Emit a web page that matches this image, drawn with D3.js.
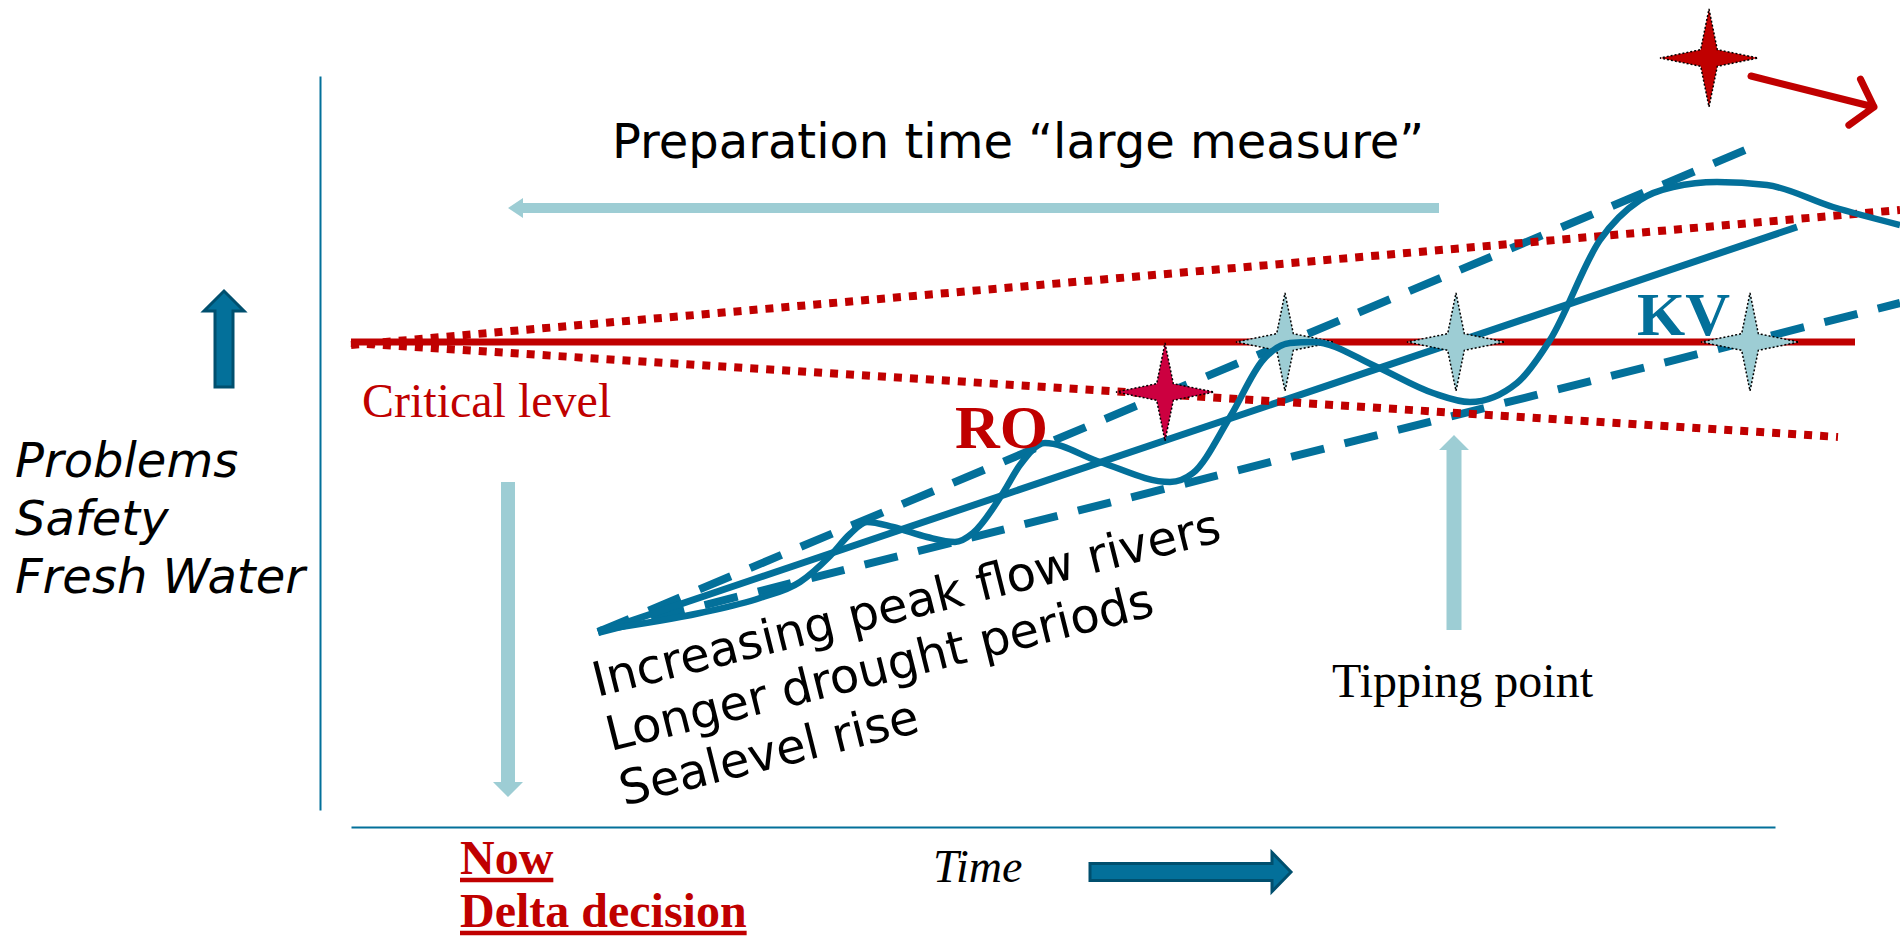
<!DOCTYPE html>
<html>
<head>
<meta charset="utf-8">
<script src="https://cdn.jsdelivr.net/npm/d3@7"></script>
<style>
    html, body { margin: 0; padding: 0; background: #fff; }
    svg { display: block; }
</style>
</head>
<body>
<svg id="chart" width="1900" height="937"></svg>
<script>
// Values are in diagram units: time (x) and problem level (y).
var timeDomain = [0, 158];
var levelDomain = [0, 75.1];

var yAxisSpan = [1.7, 75.1];
var xAxisSpan = [3.1, 145.5];

var criticalLevel = 48.5;
var criticalSpan = [3.1, 153.5];

var boundUpper = [[3.1, 48.2], [158, 61.7]];
var boundLower = [[3.1, 48.4], [151.8, 39.0]];

var trendUpper = [[27.8, 19.5], [144.2, 68.4]];
var trendLower = [[27.8, 19.5], [158, 52.4]];
var trend = [[27.8, 19.5], [147.7, 60.0]];

var wave = [
    [28.0, 19.7], [38.0, 21.4], [44.0, 22.9], [48.0, 24.5], [51.0, 27.1], [53.0, 29.3],
    [54.7, 30.5], [57.3, 30.0], [60.7, 29.0], [63.5, 28.5], [65.3, 29.4], [68.3, 33.4],
    [70.0, 36.2], [72.5, 38.4], [78.0, 36.5], [85.0, 34.5], [87.3, 35.4], [91.0, 41.0],
    [94.3, 46.7], [97.0, 48.4], [99.3, 48.5], [105.7, 46.0], [111.3, 43.4], [115.0, 42.5],
    [119.7, 44.4], [123.0, 48.7], [128.0, 58.7], [132.0, 62.7], [135.3, 64.0], [139.7, 64.5],
    [144.7, 64.2], [151.3, 62.0], [158.0, 60.2]
];

var tippingStars = [[96.5, 48.5], [113.6, 48.5], [143.0, 48.5]];
var roStars = [[84.5, 43.5]];
var futureStars = [[138.9, 76.9]];
var futureArrow = [[143.1, 75.1], [155.4, 72.0]];

var prepArrow = [[111.9, 61.9], [18.8, 61.9]];
var nowArrow = [[18.8, 34.5], [18.8, 3.0]];
var tipArrow = [[113.4, 19.7], [113.4, 39.2]];
var levelArrow = [[-9.6, 44.0], [-9.6, 53.6]];
var timeArrow = [[77.0, -4.5], [97.1, -4.5]];

var problemLabels = ['Problems', 'Safety', 'Fresh Water'];
var driverLabels = ['Increasing peak flow rivers', 'Longer drought periods', 'Sealevel rise'];
var decisionLabels = ['Now', 'Delta decision'];

var blue = '#03709a';
var blueDark = '#004f6e';
var lightBlue = '#9dcdd4';
var red = '#c00000';
var crimson = '#cc0040';
var sans = '"DejaVu Sans", Verdana, sans-serif';
var serif = '"Liberation Serif", "Times New Roman", serif';

var svg = d3.select('svg#chart');

var x = d3.scaleLinear().domain(timeDomain).range([320, 1900]);
var y = d3.scaleLinear().domain(levelDomain).range([827, 76]);

var line = d3.line().x(function(d) { return x(d[0]); }).y(function(d) { return y(d[1]); });

/**
 * Block arrow outline between two pixel points.
 */
function blockArrow(p0, p1, shaft, head, headLen) {
    var dx = p1[0] - p0[0], dy = p1[1] - p0[1];
    var len = Math.sqrt(dx * dx + dy * dy);
    var ux = dx / len, uy = dy / len, nx = -uy, ny = ux;
    var bx = p1[0] - ux * headLen, by = p1[1] - uy * headLen;
    var pts = [
        [p0[0] + nx * shaft / 2, p0[1] + ny * shaft / 2],
        [bx + nx * shaft / 2, by + ny * shaft / 2],
        [bx + nx * head / 2, by + ny * head / 2],
        p1,
        [bx - nx * head / 2, by - ny * head / 2],
        [bx - nx * shaft / 2, by - ny * shaft / 2],
        [p0[0] - nx * shaft / 2, p0[1] - ny * shaft / 2]
    ];
    return 'M' + pts.join('L') + 'Z';
}

/**
 * Four pointed star around a centre.
 */
function starPath(cx, cy, r) {
    var pts = [];
    for (var i = 0; i < 8; i++) {
        var a = i * Math.PI / 4 - Math.PI / 2;
        var rr = i % 2 == 0 ? r : r * 0.24;
        pts.push([cx + rr * Math.cos(a), cy + rr * Math.sin(a)]);
    }
    return 'M' + pts.join('L') + 'Z';
}

function px(p) { return [x(p[0]), y(p[1])]; }

// Axes (no ticks, just the domain line)
var vScale = d3.scaleLinear().domain(yAxisSpan).range(yAxisSpan.map(y));
svg.append('g')
    .attr('transform', 'translate(' + x(0) + ',0)')
    .call(d3.axisLeft(vScale).tickValues([]).tickSizeOuter(0))
    .select('.domain').attr('stroke', blue).attr('stroke-width', 2);

var hScale = d3.scaleLinear().domain(xAxisSpan).range(xAxisSpan.map(x));
svg.append('g')
    .attr('transform', 'translate(0,' + y(0) + ')')
    .call(d3.axisBottom(hScale).tickValues([]).tickSizeOuter(0))
    .select('.domain').attr('stroke', blue).attr('stroke-width', 2);

// Trend lines
[trendUpper, trendLower].forEach(function(d) {
    svg.append('path').attr('d', line(d))
        .attr('fill', 'none').attr('stroke', blue).attr('stroke-width', 8)
        .attr('stroke-dasharray', '34 21');
});
svg.append('path').attr('d', line(trend))
    .attr('fill', 'none').attr('stroke', blue).attr('stroke-width', 7);

// Uncertainty of the critical level
[boundUpper, boundLower].forEach(function(d) {
    svg.append('path').attr('d', line(d))
        .attr('fill', 'none').attr('stroke', red).attr('stroke-width', 8)
        .attr('stroke-dasharray', '8 8');
});

svg.append('line')
    .attr('x1', x(criticalSpan[0])).attr('x2', x(criticalSpan[1]))
    .attr('y1', y(criticalLevel)).attr('y2', y(criticalLevel))
    .attr('stroke', red).attr('stroke-width', 7);

// Stars
function drawStars(data, fill) {
    svg.selectAll(null).data(data).enter().append('path')
        .attr('d', function(d) { return starPath(x(d[0]), y(d[1]), 49); })
        .attr('fill', fill)
        .attr('stroke', '#000').attr('stroke-width', 1.5)
        .attr('stroke-dasharray', '2 2');
}
drawStars(roStars, crimson);
drawStars(tippingStars, lightBlue);
drawStars(futureStars, red);

// Wave of actual problems
svg.append('path').attr('d', line.curve(d3.curveMonotoneX)(wave))
    .attr('fill', 'none').attr('stroke', blue).attr('stroke-width', 6.5);
line.curve(d3.curveLinear);

// Red arrow leaving the picture
var fa0 = px(futureArrow[0]), fa1 = px(futureArrow[1]);
var ang = Math.atan2(fa1[1] - fa0[1], fa1[0] - fa0[0]);
var arm = 31, spread = 50 * Math.PI / 180;
svg.append('path')
    .attr('d', 'M' + fa0 + 'L' + fa1 +
        'M' + [fa1[0] - arm * Math.cos(ang - spread), fa1[1] - arm * Math.sin(ang - spread)] +
        'L' + fa1 +
        'L' + [fa1[0] - arm * Math.cos(ang + spread), fa1[1] - arm * Math.sin(ang + spread)])
    .attr('fill', 'none').attr('stroke', red).attr('stroke-width', 7)
    .attr('stroke-linecap', 'round').attr('stroke-linejoin', 'round');

// Light blue arrows
svg.append('path').attr('d', blockArrow(px(prepArrow[0]), px(prepArrow[1]), 10, 20, 15)).attr('fill', lightBlue);
svg.append('path').attr('d', blockArrow(px(nowArrow[0]), px(nowArrow[1]), 14, 30, 15)).attr('fill', lightBlue);
svg.append('path').attr('d', blockArrow(px(tipArrow[0]), px(tipArrow[1]), 15, 30, 15)).attr('fill', lightBlue);

// Dark axis arrows
svg.append('path').attr('d', blockArrow(px(levelArrow[0]), px(levelArrow[1]), 18, 40, 20))
    .attr('fill', blue).attr('stroke', blueDark).attr('stroke-width', 3);
svg.append('path').attr('d', blockArrow(px(timeArrow[0]), px(timeArrow[1]), 17, 39, 19))
    .attr('fill', blue).attr('stroke', blueDark).attr('stroke-width', 3);

// Texts
svg.append('text')
    .attr('x', x(29.2)).attr('y', y(66.9))
    .style('font-family', sans).style('font-size', '48px').attr('fill', '#000')
    .text('Preparation time \u201clarge measure\u201d');

svg.append('text')
    .attr('x', x(4.2)).attr('y', y(41.0))
    .style('font-family', serif).style('font-size', '48px').attr('fill', red)
    .text('Critical level');

svg.append('text')
    .attr('x', x(63.5)).attr('y', y(37.9))
    .style('font-family', serif).style('font-size', '62px').style('font-weight', 'bold').attr('fill', red)
    .text('RO');

svg.append('text')
    .attr('x', x(131.7)).attr('y', y(49.2))
    .style('font-family', serif).style('font-size', '62px').style('font-weight', 'bold').attr('fill', blue)
    .text('KV');

svg.append('text')
    .attr('x', x(101.2)).attr('y', y(13.0))
    .style('font-family', serif).style('font-size', '48px').attr('fill', '#000')
    .text('Tipping point');

svg.append('text')
    .attr('x', x(61.3)).attr('y', y(-5.5))
    .style('font-family', serif).style('font-size', '46px').style('font-style', 'italic').attr('fill', '#000')
    .text('Time');

svg.selectAll(null).data(problemLabels).enter().append('text')
    .attr('x', x(-30.5)).attr('y', function(d, i) { return y(35.0) + i * 58; })
    .style('font-family', sans).style('font-size', '48px').style('font-style', 'italic').attr('fill', '#000')
    .text(function(d) { return d; });

var drivers = svg.append('g')
    .attr('transform', 'translate(' + x(27.7) + ',' + y(13.0) + ') rotate(-14)');
drivers.selectAll('text').data(driverLabels).enter().append('text')
    .attr('x', 0).attr('y', function(d, i) { return i * 56; })
    .style('font-family', sans).style('font-size', '48px').attr('fill', '#000')
    .text(function(d) { return d; });

svg.selectAll(null).data(decisionLabels).enter().append('text')
    .attr('class', 'decision')
    .attr('x', x(14.0)).attr('y', function(d, i) { return y(-4.7) + i * 53; })
    .style('font-family', serif).style('font-size', '48px').style('font-weight', 'bold').attr('fill', red)
    .text(function(d) { return d; });

svg.selectAll('text.decision').each(function() {
    var t = d3.select(this);
    var w = this.getComputedTextLength();
    var bx = +t.attr('x'), by = +t.attr('y');
    svg.append('line')
        .attr('x1', bx).attr('x2', bx + w)
        .attr('y1', by + 6).attr('y2', by + 6)
        .attr('stroke', red).attr('stroke-width', 4.5);
});
</script>
</body>
</html>
